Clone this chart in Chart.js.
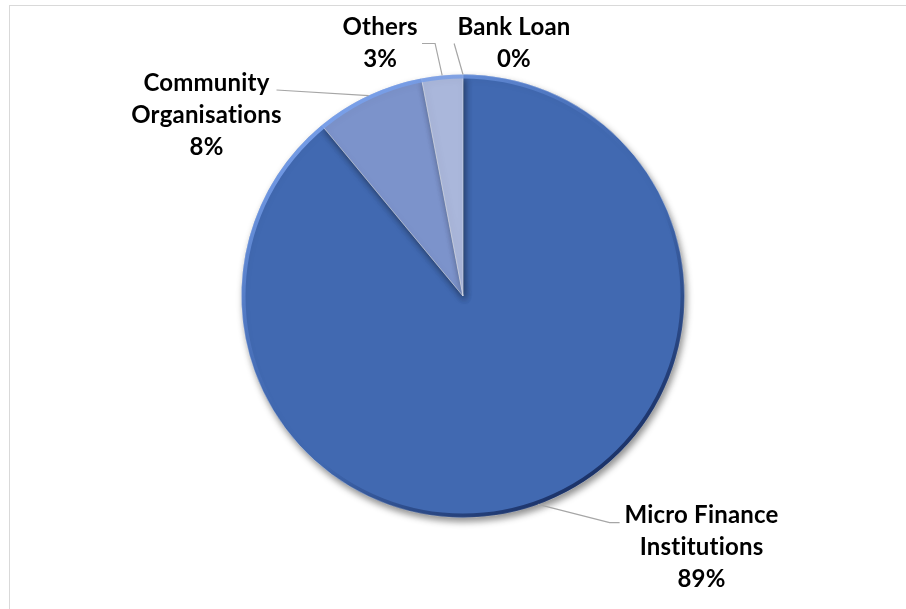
<!DOCTYPE html>
<html>
<head>
<meta charset="utf-8">
<script src="https://cdn.jsdelivr.net/npm/chart.js@4.4.1/dist/chart.umd.min.js"></script>
<style>
  html, body { margin: 0; padding: 0; background: #ffffff; }
  #wrap { position: relative; width: 906px; height: 609px; overflow: hidden; background: #fff; }
  #frame { position: absolute; left: 9px; top: 5px; width: 1000px; height: 700px;
           border-top: 1px solid #d9d9d9; border-left: 1px solid #d9d9d9; box-sizing: border-box; }
  canvas { position: absolute; left: 0; top: 0; }
</style>
</head>
<body>
<div id="wrap">
  <div id="frame"></div>
  <canvas id="c" width="906" height="609"></canvas>
</div>
<script>
// ---- data ----
const categories = ["Micro Finance Institutions", "Community Organisations", "Others", "Bank Loan"];
const labelLines = [["Micro Finance", "Institutions"], ["Community", "Organisations"], ["Others"], ["Bank Loan"]];
const shares = [89, 8, 3, 0];
const sliceColors = ["#4169B1", "#7C93CB", "#AAB7DB", "#C9D2EA"];

// ---- label layout (offsets from pie centre, in units of radius) ----
const labelLayout = [
  { elbow: [0.662, 1.023], end: [0.707, 1.023], text: [1.077, 0.99] },
  { elbow: null, end: [-0.842, -0.93], text: [-1.158, -0.96] },
  { elbow: [-0.126, -1.14], end: [-0.185, -1.14], text: [-0.374, -1.215] },
  { elbow: null, end: [-0.04, -1.14], text: [0.23, -1.215] }
];

const LINE_H = 32;
const FONT = "bold 24px Lato, 'Open Sans', 'DejaVu Sans', sans-serif";

const shadowPlugin = {
  id: "pieShadow",
  beforeDatasetsDraw(chart) {
    const ctx = chart.ctx;
    ctx.save();
    ctx.shadowColor = "rgba(0,0,0,0.45)";
    ctx.shadowBlur = 7;
    ctx.shadowOffsetX = 2;
    ctx.shadowOffsetY = 4;
  },
  afterDatasetsDraw(chart) {
    const ctx = chart.ctx;
    ctx.restore();
    // bevel rim: light on upper-left, dark on lower-right
    const a = chart.getDatasetMeta(0).data[0];
    if (!a) return;
    const cx = a.x, cy = a.y, r = a.outerRadius;
    ctx.save();
    const g = ctx.createLinearGradient(cx - r * 0.7, cy - r * 0.7, cx + r * 0.5, cy + r * 0.9);
    g.addColorStop(0, "rgba(120,160,235,0.9)");
    g.addColorStop(0.45, "rgba(90,130,210,0.0)");
    g.addColorStop(0.6, "rgba(20,40,90,0.0)");
    g.addColorStop(1, "rgba(20,40,90,0.85)");
    ctx.strokeStyle = g;
    ctx.lineWidth = 4;
    ctx.beginPath();
    ctx.arc(cx, cy, r - 2, 0, Math.PI * 2);
    ctx.stroke();
    ctx.restore();
  }
};

const labelPlugin = {
  id: "calloutLabels",
  afterDraw(chart) {
    const ctx = chart.ctx;
    const meta = chart.getDatasetMeta(0);
    ctx.save();
    meta.data.forEach((arc, i) => {
      const p = arc.getProps(["x", "y", "startAngle", "endAngle", "outerRadius"], true);
      const r = p.outerRadius;
      const mid = (p.startAngle + p.endAngle) / 2;
      const sx = p.x + Math.cos(mid) * r;
      const sy = p.y + Math.sin(mid) * r;
      const L = labelLayout[i];
      ctx.strokeStyle = "#a6a6a6";
      ctx.lineWidth = 1.2;
      ctx.beginPath();
      ctx.moveTo(sx, sy);
      if (L.elbow) ctx.lineTo(p.x + L.elbow[0] * r, p.y + L.elbow[1] * r);
      ctx.lineTo(p.x + L.end[0] * r, p.y + L.end[1] * r);
      ctx.stroke();

      const lines = labelLines[i].concat([shares[i] + "%"]);
      const tx = p.x + L.text[0] * r;
      const ty0 = p.y + L.text[1] * r;
      ctx.fillStyle = "#000000";
      ctx.font = FONT;
      if ("letterSpacing" in ctx) ctx.letterSpacing = "0.2px";
      ctx.textAlign = "center";
      ctx.textBaseline = "middle";
      lines.forEach((t, k) => ctx.fillText(t, tx, ty0 + k * LINE_H));
    });
    ctx.restore();
  }
};

new Chart(document.getElementById("c"), {
  type: "pie",
  data: {
    labels: categories,
    datasets: [{
      data: shares,
      backgroundColor: sliceColors,
      borderColor: "rgba(255,255,255,0.35)",
      borderWidth: 1
    }]
  },
  options: {
    responsive: false,
    animation: false,
    rotation: 0,
    layout: { padding: { top: 74, bottom: 91, left: 120, right: 100 } },
    plugins: { legend: { display: false }, tooltip: { enabled: false }, title: { display: false } }
  },
  plugins: [shadowPlugin, labelPlugin]
});
</script>
</body>
</html>
